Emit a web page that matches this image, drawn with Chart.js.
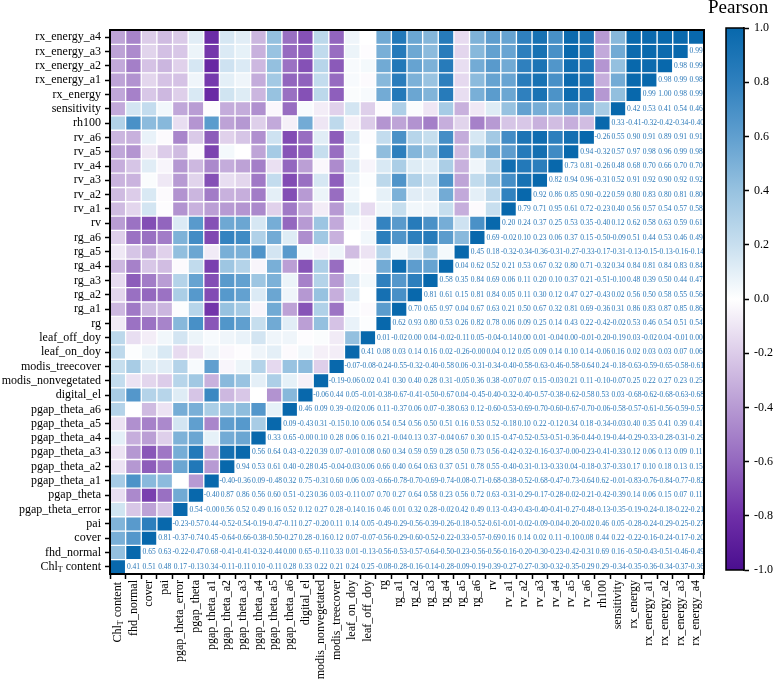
<!DOCTYPE html>
<html>
<head>
<meta charset="utf-8">
<script src="https://cdn.jsdelivr.net/npm/chart.js@4/dist/chart.umd.min.js"></script>
<style>
    html, body { margin: 0; padding: 0; background: #fff; }
    #wrap { position: relative; width: 773px; height: 681px; overflow: hidden; }
    canvas { position: absolute; top: 0; }
    #chart_main { left: 0; }
    #chart_bar { left: 700px; }
    #bar_title { position: absolute; left: 708px; top: -4px; font: 19px 'Liberation Serif', 'Times New Roman', serif; color: #000; white-space: nowrap; }
</style>
</head>
<body>
<div id="wrap">
    <canvas id="chart_main" width="773" height="681"></canvas>
    <canvas id="chart_bar" width="73" height="681"></canvas>
    <div id="bar_title">Pearson</div>
</div>
<script>
var variables = [
    "Chl_T content", "fhd_normal", "cover", "pai", "pgap_theta_error", "pgap_theta",
    "pgap_theta_a1", "pgap_theta_a2", "pgap_theta_a3", "pgap_theta_a4", "pgap_theta_a5", "pgap_theta_a6",
    "digital_el", "modis_nonvegetated", "modis_treecover", "leaf_on_doy", "leaf_off_doy",
    "rg", "rg_a1", "rg_a2", "rg_a3", "rg_a4", "rg_a5", "rg_a6",
    "rv", "rv_a1", "rv_a2", "rv_a3", "rv_a4", "rv_a5", "rv_a6",
    "rh100", "sensitivity", "rx_energy", "rx_energy_a1", "rx_energy_a2", "rx_energy_a3", "rx_energy_a4"
];

// printed "-0.00" cells are kept as -0.001 so the minus sign survives
// each row: correlations with the variables after it in the list
var pearson = [
    [0.41,0.51,0.48,0.17,-0.13,0.34,-0.11,-0.11,0.10,-0.11,0.28,0.33,0.22,0.21,0.24,0.25,-0.08,-0.28,-0.16,-0.14,-0.28,-0.09,-0.19,-0.39,-0.27,-0.27,-0.30,-0.32,-0.35,-0.29,0.29,-0.34,-0.35,-0.36,-0.34,-0.37,-0.36],
    [0.65,0.63,-0.22,-0.47,0.68,-0.41,-0.41,-0.32,-0.44,0.00,0.65,-0.11,0.33,0.01,-0.13,-0.56,-0.53,-0.57,-0.64,-0.50,-0.23,-0.56,-0.56,-0.16,-0.20,-0.30,-0.23,-0.42,-0.31,0.69,0.16,-0.50,-0.43,-0.51,-0.46,-0.49],
    [0.81,-0.37,-0.74,0.45,-0.64,-0.66,-0.38,-0.50,-0.27,0.28,-0.16,0.12,0.07,-0.07,-0.56,-0.29,-0.60,-0.52,-0.22,-0.33,-0.57,-0.69,0.16,0.14,0.02,0.11,-0.10,0.08,0.44,0.22,-0.22,-0.16,-0.24,-0.17,-0.20],
    [-0.23,-0.57,0.44,-0.52,-0.54,-0.19,-0.47,-0.11,0.27,-0.20,0.11,0.14,0.05,-0.49,-0.29,-0.56,-0.39,-0.26,-0.18,-0.52,-0.61,-0.01,-0.02,-0.09,-0.04,-0.20,-0.02,0.46,0.05,-0.28,-0.24,-0.29,-0.25,-0.27],
    [0.54,-0.001,0.56,0.52,0.49,0.16,0.52,0.12,0.27,0.28,-0.14,0.16,0.46,0.01,0.32,0.28,-0.02,0.42,0.49,0.13,-0.43,-0.43,-0.40,-0.41,-0.27,-0.48,-0.13,-0.35,-0.19,-0.24,-0.18,-0.22,-0.21],
    [-0.40,0.87,0.86,0.56,0.60,0.51,-0.23,0.36,0.03,-0.11,0.07,0.70,0.27,0.64,0.58,0.23,0.56,0.72,0.63,-0.31,-0.29,-0.17,-0.28,-0.02,-0.21,-0.42,-0.39,0.14,0.06,0.15,0.07,0.11],
    [-0.40,-0.36,0.09,-0.48,0.32,0.75,-0.31,0.60,0.06,0.03,-0.66,-0.78,-0.70,-0.69,-0.74,-0.08,-0.71,-0.68,-0.38,-0.52,-0.68,-0.47,-0.73,-0.64,0.62,-0.01,-0.83,-0.76,-0.84,-0.77,-0.82],
    [0.94,0.53,0.61,0.40,-0.28,0.45,-0.04,-0.03,0.06,0.66,0.40,0.64,0.63,0.37,0.51,0.78,0.55,-0.40,-0.31,-0.13,-0.33,0.04,-0.18,-0.37,-0.33,0.17,0.10,0.18,0.13,0.15],
    [0.56,0.64,0.43,-0.22,0.39,0.07,-0.01,0.08,0.60,0.34,0.59,0.59,0.28,0.50,0.73,0.56,-0.42,-0.32,-0.16,-0.37,-0.001,-0.23,-0.41,-0.33,0.12,0.06,0.13,0.09,0.11],
    [0.33,0.65,-0.001,0.10,0.28,0.06,0.16,0.21,-0.04,0.13,0.37,-0.04,0.67,0.30,0.15,-0.47,-0.52,-0.53,-0.51,-0.36,-0.44,-0.19,-0.44,-0.29,-0.33,-0.28,-0.31,-0.29],
    [0.09,-0.43,0.31,-0.15,0.10,0.06,0.54,0.54,0.56,0.50,0.51,0.16,0.53,0.52,-0.18,0.10,0.22,-0.12,0.34,0.18,-0.34,-0.03,0.40,0.35,0.41,0.39,0.41],
    [0.46,0.09,0.39,-0.02,0.06,0.11,-0.37,0.06,0.07,-0.38,0.63,0.12,-0.60,-0.53,-0.69,-0.70,-0.60,-0.67,-0.70,-0.06,-0.58,-0.57,-0.61,-0.56,-0.59,-0.57],
    [-0.06,0.44,0.05,-0.01,-0.38,-0.67,-0.41,-0.50,-0.67,0.04,-0.45,-0.40,-0.32,-0.40,-0.57,-0.38,-0.62,-0.58,0.53,0.03,-0.68,-0.62,-0.68,-0.63,-0.68],
    [-0.19,-0.06,0.02,0.41,0.30,0.40,0.28,0.31,-0.05,0.36,0.38,-0.07,0.07,0.15,-0.03,0.21,0.11,-0.10,-0.07,0.25,0.22,0.27,0.23,0.25],
    [-0.07,-0.08,-0.24,-0.55,-0.32,-0.40,-0.58,0.06,-0.31,-0.34,-0.40,-0.58,-0.63,-0.46,-0.58,-0.64,0.24,-0.18,-0.63,-0.59,-0.65,-0.58,-0.61],
    [0.41,0.08,0.03,0.14,0.16,0.02,-0.26,-0.001,0.04,0.12,0.05,0.09,0.14,0.10,0.14,-0.06,0.16,0.02,0.03,0.03,0.07,0.06],
    [0.01,-0.02,0.00,0.04,-0.02,-0.11,0.05,-0.04,-0.14,0.00,0.01,-0.04,0.00,-0.01,-0.20,-0.19,0.03,-0.02,0.04,-0.01,0.00],
    [0.62,0.93,0.80,0.53,0.26,0.82,0.78,0.06,0.09,0.25,0.14,0.43,0.22,-0.42,-0.02,0.53,0.46,0.54,0.51,0.54],
    [0.70,0.65,0.97,0.04,0.67,0.63,0.21,0.50,0.67,0.32,0.81,0.69,-0.36,0.31,0.86,0.83,0.87,0.85,0.86],
    [0.81,0.61,0.15,0.81,0.84,0.05,0.11,0.30,0.12,0.47,0.27,-0.43,0.02,0.56,0.50,0.58,0.55,0.56],
    [0.58,0.35,0.84,0.69,0.06,0.11,0.20,0.10,0.37,0.21,-0.51,-0.10,0.48,0.39,0.50,0.44,0.47],
    [0.04,0.62,0.52,0.21,0.53,0.67,0.32,0.80,0.71,-0.32,0.34,0.84,0.81,0.84,0.83,0.84],
    [0.45,0.18,-0.32,-0.34,-0.36,-0.31,-0.27,-0.33,-0.17,-0.31,-0.13,-0.15,-0.13,-0.16,-0.14],
    [0.69,-0.02,0.10,0.23,0.06,0.37,0.15,-0.50,-0.09,0.51,0.44,0.53,0.46,0.49],
    [0.20,0.24,0.37,0.25,0.53,0.35,-0.40,0.12,0.62,0.58,0.63,0.59,0.61],
    [0.79,0.71,0.95,0.61,0.72,-0.23,0.40,0.56,0.57,0.54,0.57,0.58],
    [0.92,0.86,0.85,0.90,-0.22,0.59,0.80,0.83,0.80,0.81,0.80],
    [0.82,0.94,0.96,-0.31,0.52,0.91,0.92,0.90,0.92,0.92],
    [0.73,0.81,-0.26,0.48,0.68,0.70,0.66,0.70,0.70],
    [0.94,-0.32,0.57,0.97,0.98,0.96,0.99,0.98],
    [-0.26,0.55,0.90,0.91,0.89,0.91,0.91],
    [0.33,-0.41,-0.32,-0.42,-0.34,-0.40],
    [0.42,0.53,0.41,0.54,0.46],
    [0.99,1.00,0.98,0.99],
    [0.98,0.99,0.98],
    [0.98,0.99],
    [0.99],
    []
];

var colorStops = [-1, -0.8, -0.6, -0.4, -0.2, 0, 0.2, 0.4, 0.6, 0.8, 1];
var colorValues = ["#4a0e8f", "#6f2fa8", "#9468bf", "#b79ad3", "#dccce9", "#ffffff", "#c8dfef", "#97c2e0", "#609fcf", "#2f80be", "#0868ac"];
var barTicks = [-1, -0.8, -0.6, -0.4, -0.2, 0, 0.2, 0.4, 0.6, 0.8, 1];

var serif = "'Liberation Serif', 'Times New Roman', serif";

function hexRgb(h) {
    return [parseInt(h.substr(1, 2), 16), parseInt(h.substr(3, 2), 16), parseInt(h.substr(5, 2), 16)];
}

function colorFor(v) {
    for (var s = 0; s < colorStops.length - 1; s++) {
        if (v <= colorStops[s + 1]) {
            var t = (v - colorStops[s]) / (colorStops[s + 1] - colorStops[s]);
            var a = hexRgb(colorValues[s]), b = hexRgb(colorValues[s + 1]);
            return "rgb(" + Math.round(a[0] + (b[0] - a[0]) * t) + "," + Math.round(a[1] + (b[1] - a[1]) * t) + "," + Math.round(a[2] + (b[2] - a[2]) * t) + ")";
        }
    }
    return colorValues[colorValues.length - 1];
}

function cellValue(row, col) {
    if (row === col) return 1;
    return col > row ? pearson[row][col - row - 1] : pearson[col][row - col - 1];
}

// one dataset per row, floating bars fill the lower left triangle
var rowSets = variables.map(function (name, row) {
    return {
        label: name,
        data: variables.map(function (n, col) { return col <= row ? [row - 0.5, row + 0.5] : null; }),
        backgroundColor: variables.map(function (n, col) { return colorFor(cellValue(row, col)); }),
        borderColor: "#ffffff",
        borderWidth: 1,
        borderSkipped: false,
        grouped: false,
        barPercentage: 1,
        categoryPercentage: 1
    };
});

function drawSubLabel(ctx, x, y) {
    // "Chl" + subscript T + " content", right aligned at x
    ctx.font = "12px " + serif;
    var w1 = ctx.measureText("Chl").width, w3 = ctx.measureText(" content").width;
    ctx.font = "8px " + serif;
    var w2 = ctx.measureText("T").width;
    var left = x - w1 - w2 - w3;
    ctx.textAlign = "left";
    ctx.textBaseline = "middle";
    ctx.fillStyle = "#000";
    ctx.font = "12px " + serif;
    ctx.fillText("Chl", left, y);
    ctx.fillText(" content", left + w1 + w2, y);
    ctx.font = "8px " + serif;
    ctx.fillText("T", left + w1, y + 3);
}

var cellText = {
    id: "cellText",
    afterDatasetsDraw: function (chart) {
        var ctx = chart.ctx, xs = chart.scales.x, ys = chart.scales.y;
        ctx.save();
        ctx.font = "7.5px " + serif;
        ctx.fillStyle = "#2a78b8";
        ctx.textAlign = "center";
        ctx.textBaseline = "middle";
        pearson.forEach(function (vals, row) {
            vals.forEach(function (v, n) {
                ctx.fillText(v.toFixed(2), xs.getPixelForValue(row + n + 1), ys.getPixelForValue(row));
            });
        });
        ctx.restore();
    },
    afterDraw: function (chart) {
        var ctx = chart.ctx, area = chart.chartArea, xs = chart.scales.x, ys = chart.scales.y;
        ctx.save();
        ctx.strokeStyle = "#000";
        ctx.lineWidth = 2;
        ctx.strokeRect(area.left, area.top, area.right - area.left, area.bottom - area.top);
        drawSubLabel(ctx, area.left - 9, ys.getPixelForValue(0));
        ctx.translate(xs.getPixelForValue(0), area.bottom + 8);
        ctx.rotate(-Math.PI / 2);
        drawSubLabel(ctx, 0, 0);
        ctx.restore();
    }
};

var mainChart = new Chart(document.getElementById("chart_main").getContext("2d"), {
    type: "bar",
    data: { labels: variables, datasets: rowSets },
    plugins: [cellText],
    options: {
        responsive: false,
        animation: false,
        layout: { padding: { top: 30, right: 69, left: 0, bottom: 0 } },
        plugins: { legend: { display: false }, tooltip: { enabled: false } },
        scales: {
            x: {
                type: "category",
                afterFit: function (scale) { scale.height = 107; },
                grid: { drawOnChartArea: false, tickLength: 5, tickColor: "#000", tickWidth: 1.5 },
                border: { color: "#000", width: 2 },
                ticks: {
                    autoSkip: false,
                    maxRotation: 90,
                    minRotation: 90,
                    padding: 1,
                    color: "#000",
                    font: { family: serif, size: 12 },
                    callback: function (v, i) { return i === 0 ? "" : variables[i]; }
                }
            },
            y: {
                type: "linear",
                min: -0.5,
                max: 37.5,
                afterBuildTicks: function (scale) {
                    scale.ticks = variables.map(function (n, i) { return { value: i }; });
                },
                afterFit: function (scale) { scale.width = 110; },
                grid: { drawOnChartArea: false, tickLength: 5, tickColor: "#000", tickWidth: 1.5 },
                border: { color: "#000", width: 2 },
                ticks: {
                    autoSkip: false,
                    padding: 4,
                    color: "#000",
                    font: { family: serif, size: 12 },
                    callback: function (v) { return v === 0 ? "" : variables[v]; }
                }
            }
        }
    }
});

var barChart = new Chart(document.getElementById("chart_bar").getContext("2d"), {
    type: "bar",
    data: {
        labels: ["Pearson"],
        datasets: [{
            data: [[-1, 1]],
            barPercentage: 1,
            categoryPercentage: 1,
            borderWidth: 0,
            backgroundColor: function (c) {
                var area = c.chart.chartArea;
                if (!area) return "#fff";
                var g = c.chart.ctx.createLinearGradient(0, area.bottom, 0, area.top);
                colorStops.forEach(function (s, i) { g.addColorStop((s + 1) / 2, colorValues[i]); });
                return g;
            }
        }]
    },
    plugins: [{
        id: "barFrame",
        afterDraw: function (chart) {
            var a = chart.chartArea, ctx = chart.ctx;
            ctx.save();
            ctx.strokeStyle = "#000";
            ctx.lineWidth = 1.5;
            ctx.strokeRect(a.left, a.top, a.right - a.left, a.bottom - a.top);
            ctx.restore();
        }
    }],
    options: {
        responsive: false,
        animation: false,
        layout: { padding: { top: 28, left: 26, right: 0, bottom: 111 } },
        plugins: { legend: { display: false }, tooltip: { enabled: false } },
        scales: {
            x: { display: false },
            y: {
                position: "right",
                min: -1,
                max: 1,
                afterBuildTicks: function (scale) {
                    scale.ticks = barTicks.map(function (v) { return { value: v }; });
                },
                afterFit: function (scale) { scale.width = 29; },
                grid: { drawOnChartArea: false, tickLength: 5, tickColor: "#000", tickWidth: 1.5 },
                border: { color: "#000", width: 1.5 },
                ticks: {
                    autoSkip: false,
                    padding: 5,
                    color: "#000",
                    font: { family: serif, size: 12 },
                    callback: function (v) { return v.toFixed(1); }
                }
            }
        }
    }
});
</script>
</body>
</html>
